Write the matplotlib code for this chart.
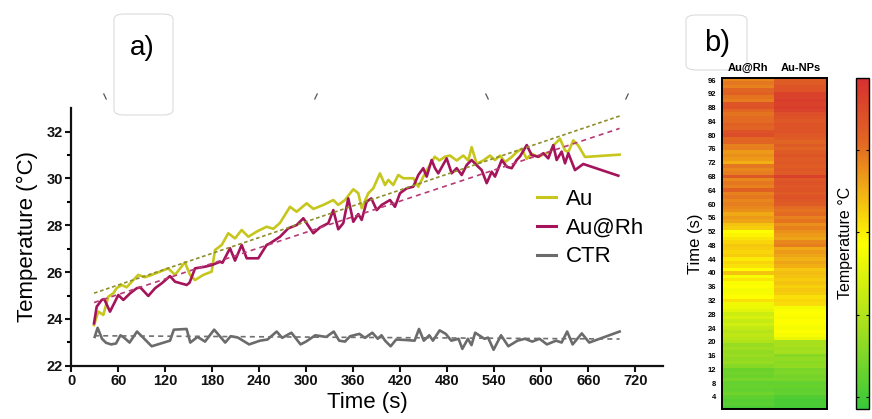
import numpy as np
import matplotlib
matplotlib.use("Agg")
import matplotlib.pyplot as plt
from matplotlib.colors import LinearSegmentedColormap
from matplotlib.lines import Line2D
from matplotlib.patches import FancyBboxPatch

# ---------------- data ----------------
au_t = [29, 34.5, 40.9, 47.2, 53.6, 58, 64.3, 70.7, 77.1, 85.5, 94.1, 102.6, 113.2, 123.8, 132.4,
        145.1, 151.5, 157.9, 168.5, 179.2, 183.4, 192, 200.4, 209, 217.5, 226, 236.7, 249.4, 257.9,
        266.4, 279.2, 287.7, 300.5, 309, 321.7, 334.5, 340.8, 349.4, 360, 366.4, 370.7, 379.2, 385.5,
        394, 400.5, 404.7, 411, 417.4, 423.8, 436.6, 443, 452, 464, 470, 477, 483.4, 492, 500.4,
        506.8, 511.1, 517.5, 526, 534.5, 540.9, 547.3, 553.7, 562.2, 568.6, 575, 581.4, 587.7, 596.2,
        604.7, 611.1, 617.5, 623.9, 630.3, 634.5, 640.9, 647.2, 655.8, 700]
au_T = [23.74, 24.31, 24.17, 24.95, 25.09, 25.32, 25.45, 25.35, 25.59, 25.88, 25.78, 25.88, 26.02, 26.16, 25.88,
        26.42, 25.88, 25.66, 25.88, 26.02, 26.94, 27.16, 27.66, 27.44, 27.80, 27.51, 27.73, 27.94, 27.85,
        28.10, 28.79, 28.58, 28.94, 28.70, 28.87, 29.08, 28.87, 29.08, 29.54, 29.37, 28.73, 29.37, 29.58,
        30.22, 29.72, 29.94, 29.72, 30.15, 30.01, 30.01, 29.65, 30.25, 30.93, 30.77, 30.93, 30.98, 30.77, 30.98,
        30.77, 31.34, 30.63, 30.77, 30.98, 30.79, 30.98, 30.70, 30.92, 31.13, 31.27, 30.84, 31.06, 30.92,
        31.06, 31.13, 31.48, 31.70, 31.20, 31.13, 31.63, 31.41, 30.92, 31.02]

aurh_t = [29, 32.4, 38.8, 42, 49.4, 60, 66.4, 75, 83.5, 88, 98.3, 106.9, 115.4, 126, 132.4, 147.3, 151,
          158, 170.7, 179.2, 189.8, 193, 202.6, 209, 217.5, 223.9, 238.7, 249.4, 253.7, 266.4, 277, 287.7,
          296.2, 309, 317.5, 328.1, 334.5, 340.8, 347.2, 353.6, 360, 366.4, 370.7, 377.1, 383, 389.9, 396.2,
          406.9, 413.2, 419.6, 428.2, 436.6, 443, 449.3, 453.7, 460, 464.3, 468.5, 479.2, 485.6, 492, 498.4,
          504.8, 511.1, 517, 523.9, 530.3, 536.7, 540.9, 549.5, 555.9, 562.2, 568.6, 573, 581.4, 587.7,
          596.2, 602.6, 608.9, 615.3, 619.6, 626, 630.3, 634.5, 643, 653.6, 698.3]
aurh_T = [23.81, 24.52, 24.81, 24.85, 24.31, 25.02, 24.81, 25.09, 25.31, 25.35, 24.98, 25.31, 25.52, 25.83, 25.59, 25.45, 25.55,
          26.16, 26.23, 26.30, 26.44, 26.40, 27.02, 26.49, 27.16, 26.59, 26.59, 27.16, 27.23, 27.51, 27.87, 28.01,
          28.30, 27.66, 27.91, 28.09, 28.65, 27.83, 28.09, 29.15, 28.15, 28.48, 28.23, 29.01, 29.15, 28.65, 28.87,
          29.08, 28.79, 29.37, 29.58, 29.65, 30.15, 30.44, 30.08, 30.79, 30.44, 30.22, 30.86, 30.22, 30.44, 30.15,
          30.58, 30.79, 30.58, 30.36, 29.80, 30.29, 30.08, 30.79, 30.50, 30.44, 30.79, 30.95, 31.43, 31.00,
          30.93, 31.08, 30.86, 31.43, 30.79, 31.15, 30.65, 31.08, 30.36, 30.62, 30.12]

ctr_t = [29.9, 33.6, 39.2, 44.3, 50.9, 57.1, 62.7, 67.3, 74.4, 83.9, 93.2, 102.6, 126, 130.9, 147.2, 151.9,
         161.2, 170.7, 182.4, 196.5, 203.5, 212.8, 227, 241, 250.5, 262.2, 269.2, 281, 292.7, 299.6, 311.5,
         325.5, 335, 342, 349.4, 356, 367.8, 374.9, 384.3, 391.3, 396, 400.6, 407.7, 414.8, 426.5, 438.3,
         443.9, 450, 457, 461.7, 470.2, 478, 485.1, 494.4, 499.2, 506.3, 510.9, 515.6, 527.4, 532.1, 539.1,
         548.6, 557.9, 569.6, 579.1, 588.4, 597.8, 607.2, 618.8, 626, 633, 640, 651.7, 661.2, 700]
ctr_T = [23.23, 23.62, 23.15, 22.98, 22.91, 22.95, 23.30, 23.20, 22.99, 23.46, 23.15, 22.83, 23.07, 23.54, 23.57, 22.99,
         23.23, 23.03, 23.54, 22.99, 23.26, 23.20, 22.91, 23.07, 23.12, 23.46, 23.19, 23.41, 22.91, 23.03, 23.30,
         23.23, 23.46, 23.07, 23.03, 23.26, 23.36, 23.19, 23.41, 23.15, 23.30, 23.07, 22.83, 23.12, 23.10, 23.07,
         23.57, 23.07, 23.30, 23.07, 23.51, 23.36, 23.07, 23.15, 22.72, 23.15, 22.88, 23.41, 23.15, 23.20, 22.68,
         23.30, 22.83, 23.07, 23.15, 23.03, 23.15, 22.91, 23.07, 22.99, 23.46, 22.91, 23.38, 22.99, 23.46]

# linear fits (end points)
fit_t = [29, 700]
au_fit = [25.10, 32.67]
aurh_fit = [24.70, 32.14]
ctr_fit = [23.28, 23.14]

series_labels = ["Au", "Au@Rh", "CTR"]
xticks = list(range(0, 721, 60))
yticks = [22, 24, 26, 28, 30, 32]

# heatmap (normalised temperature, rows 1..96 from bottom)
heat_cols = ["Au@Rh", "Au-NPs"]
heat_aurh = [0.04, 0.08, 0.07, 0.09, 0.13, 0.10, 0.11, 0.10, 0.15, 0.12, 0.13, 0.12, 0.18,
             0.22, 0.20, 0.23, 0.21, 0.24, 0.22, 0.28, 0.30, 0.32, 0.29, 0.33, 0.37, 0.34, 0.39, 0.36,
             0.42, 0.45, 0.46, 0.56, 0.50, 0.48, 0.47, 0.50, 0.49, 0.55, 0.48, 0.62, 0.50, 0.56, 0.58,
             0.54, 0.60, 0.58, 0.60, 0.61, 0.58, 0.55, 0.52, 0.50, 0.60, 0.62, 0.68, 0.70, 0.67, 0.72,
             0.74, 0.76, 0.74, 0.77, 0.75, 0.83, 0.75, 0.77, 0.74, 0.86, 0.76, 0.74, 0.77, 0.66, 0.70,
             0.72, 0.70, 0.76, 0.75, 0.82, 0.81, 0.90, 0.88, 0.82, 0.83, 0.80, 0.80, 0.78, 0.81, 0.88,
             0.87, 0.76, 0.78, 0.83, 0.82, 0.75, 0.77, 0.74]
heat_aunp = [0.03, 0.05, 0.04, 0.06, 0.10, 0.09, 0.11, 0.10, 0.15, 0.14, 0.16, 0.15, 0.20, 0.19,
             0.21, 0.18, 0.25, 0.24, 0.26, 0.25, 0.44, 0.48, 0.50, 0.47, 0.49, 0.50, 0.48, 0.50, 0.49,
             0.47, 0.57, 0.58, 0.56, 0.60, 0.61, 0.59, 0.62, 0.60, 0.62, 0.63, 0.61, 0.66, 0.68, 0.65,
             0.68, 0.70, 0.67, 0.76, 0.74, 0.68, 0.70, 0.72, 0.75, 0.72, 0.78, 0.75, 0.80, 0.78, 0.80,
             0.85, 0.86, 0.88, 0.85, 0.87, 0.86, 0.88, 0.86, 0.94, 0.85, 0.86, 0.84, 0.86, 0.85, 0.87,
             0.85, 0.82, 0.85, 0.82, 0.85, 0.86, 0.88, 0.87, 0.88, 0.86, 0.88, 0.89, 0.93, 0.95, 0.94,
             0.95, 0.93, 0.94, 0.88, 0.87, 0.85, 0.84]
heat_ticks = list(range(4, 97, 4))

# ---------------- styling ----------------
W, H = 872, 419
def fx(px): return px / W
def fy(py): return 1 - py / H

plt.rcParams['font.family'] = ['Liberation Sans', 'DejaVu Sans']
narrow = ['Liberation Sans Narrow', 'Liberation Sans', 'DejaVu Sans']

c_au, c_aurh, c_ctr = "#c6c61c", "#a5135a", "#6b6b6b"
c_au_fit, c_aurh_fit, c_ctr_fit = "#8e8e2e", "#b83a74", "#707070"

fig = plt.figure(figsize=(W / 100, H / 100), dpi=100)

# ---- panel a ----
x0, x1 = 71.3, 662.7
y0, y1 = 365.7, 108.3
ax = fig.add_axes([fx(x0), fy(y0), fx(x1) - fx(x0), fy(y1) - fy(y0)])
ax.plot(au_t, au_T, color=c_au, lw=1.9, label=series_labels[0], zorder=3)
ax.plot(aurh_t, aurh_T, color=c_aurh, lw=1.9, label=series_labels[1], zorder=4)
ax.plot(ctr_t, ctr_T, color=c_ctr, lw=1.9, label=series_labels[2], zorder=3)
ax.plot(fit_t, au_fit, color=c_au_fit, lw=1.2, dashes=(2.2, 1.6), zorder=5)
ax.plot(fit_t, aurh_fit, color=c_aurh_fit, lw=1.2, dashes=(3, 2.5), zorder=5)
ax.plot(fit_t, ctr_fit, color=c_ctr_fit, lw=1.2, dashes=(3, 2.5), zorder=5)

ax.set_xlim(0, 755)
ax.set_ylim(22, 33)
ax.set_xticks(xticks)
ax.set_yticks(yticks)
ax.set_yticks([23, 25, 27, 29, 31], minor=True)
for s in ['top', 'right']:
    ax.spines[s].set_visible(False)
for s in ['left', 'bottom']:
    ax.spines[s].set_linewidth(1.6)
    ax.spines[s].set_color('#111111')
ax.tick_params(axis='both', which='major', length=4, width=1.5, direction='out', pad=2, colors='#111111')
ax.tick_params(axis='y', which='minor', length=3, width=1.5, direction='out')
for lab in ax.get_xticklabels() + ax.get_yticklabels():
    lab.set_fontfamily(narrow)
    lab.set_fontweight('bold')
    lab.set_fontsize(10.5)
ax.set_xlabel("Time (s)", fontsize=16, labelpad=3)
ax.set_ylabel("Temperature (°C)", fontsize=16, labelpad=6)

handles = [Line2D([], [], color=c, lw=2.2) for c in (c_au, c_aurh, c_ctr)]
fig.legend(handles, series_labels, loc='center left', bbox_to_anchor=(fx(537), fy(228)),
           frameon=False, fontsize=16, handlelength=0.85, handletextpad=0.45,
           labelspacing=0.35, borderpad=0, borderaxespad=0)

# panel label boxes
fig.add_artist(FancyBboxPatch((fx(114), fy(115)), fx(173) - fx(114), fy(14) - fy(115),
                              boxstyle="round,pad=0,rounding_size=0.012", transform=fig.transFigure,
                              fc='white', ec='#dcdcdc', lw=0.8))
fig.text(fx(142), fy(48), "a)", fontsize=20, ha='center', va='center')
fig.add_artist(FancyBboxPatch((fx(686), fy(70)), fx(747) - fx(686), fy(15) - fy(70),
                              boxstyle="round,pad=0,rounding_size=0.012", transform=fig.transFigure,
                              fc='white', ec='#dcdcdc', lw=0.8, zorder=-1))
fig.text(fx(717), fy(43), "b)", fontsize=21, ha='center', va='center')

# small stray tick strokes along the top
for px, d in [(105, -1), (316, 1), (487, -1), (627, 1)]:
    fig.add_artist(Line2D([fx(px - d * 1.2), fx(px + d * 1.2)], [fy(99), fy(94)],
                          transform=fig.transFigure, color='#555555', lw=0.9))

# ---- panel b: heatmap ----
cmap = LinearSegmentedColormap.from_list(
    "temp", [(0.0, '#38c83a'), (0.25, '#a6df1e'), (0.5, '#ffff00'),
             (0.65, '#f2b414'), (0.8, '#e26a22'), (1.0, '#d63030')])
hx0, hx1, hy0, hy1 = 721.7, 826.7, 409.0, 78.3
hax = fig.add_axes([fx(hx0), fy(hy0), fx(hx1) - fx(hx0), fy(hy1) - fy(hy0)])
grid = np.column_stack([heat_aurh, heat_aunp])
im = hax.imshow(grid, cmap=cmap, vmin=0, vmax=1, origin='lower', aspect='auto',
                extent=[0, 2, 0, len(heat_aurh)], interpolation='nearest')
hax.set_yticks([k - 0.5 for k in heat_ticks])
hax.set_yticklabels([str(k) for k in heat_ticks], fontsize=5.5, fontweight='bold')
hax.tick_params(axis='y', length=0, pad=4)
hax.set_xticks([0.5, 1.5])
hax.set_xticklabels(heat_cols, fontsize=8, fontweight='bold')
hax.xaxis.tick_top()
hax.tick_params(axis='x', length=0, pad=4)
for s in hax.spines.values():
    s.set_linewidth(1.4)
hax.set_ylabel("Time (s)", fontsize=12, labelpad=3)

cax = fig.add_axes([fx(856), fy(hy0), fx(869) - fx(856), fy(hy1) - fy(hy0)])
cb = fig.colorbar(im, cax=cax)
cb.set_ticks([0.037, 0.284, 0.536, 0.783])
cax.tick_params(axis='y', which='both', direction='in', length=2.5, width=0.8,
                left=True, right=True, labelright=False, labelleft=False)
cb.outline.set_linewidth(1.0)
fig.text(fx(845), fy(243), "Temperature °C", rotation=90, fontsize=11.5, ha='center', va='center')

fig.savefig("out.png", dpi=100)
